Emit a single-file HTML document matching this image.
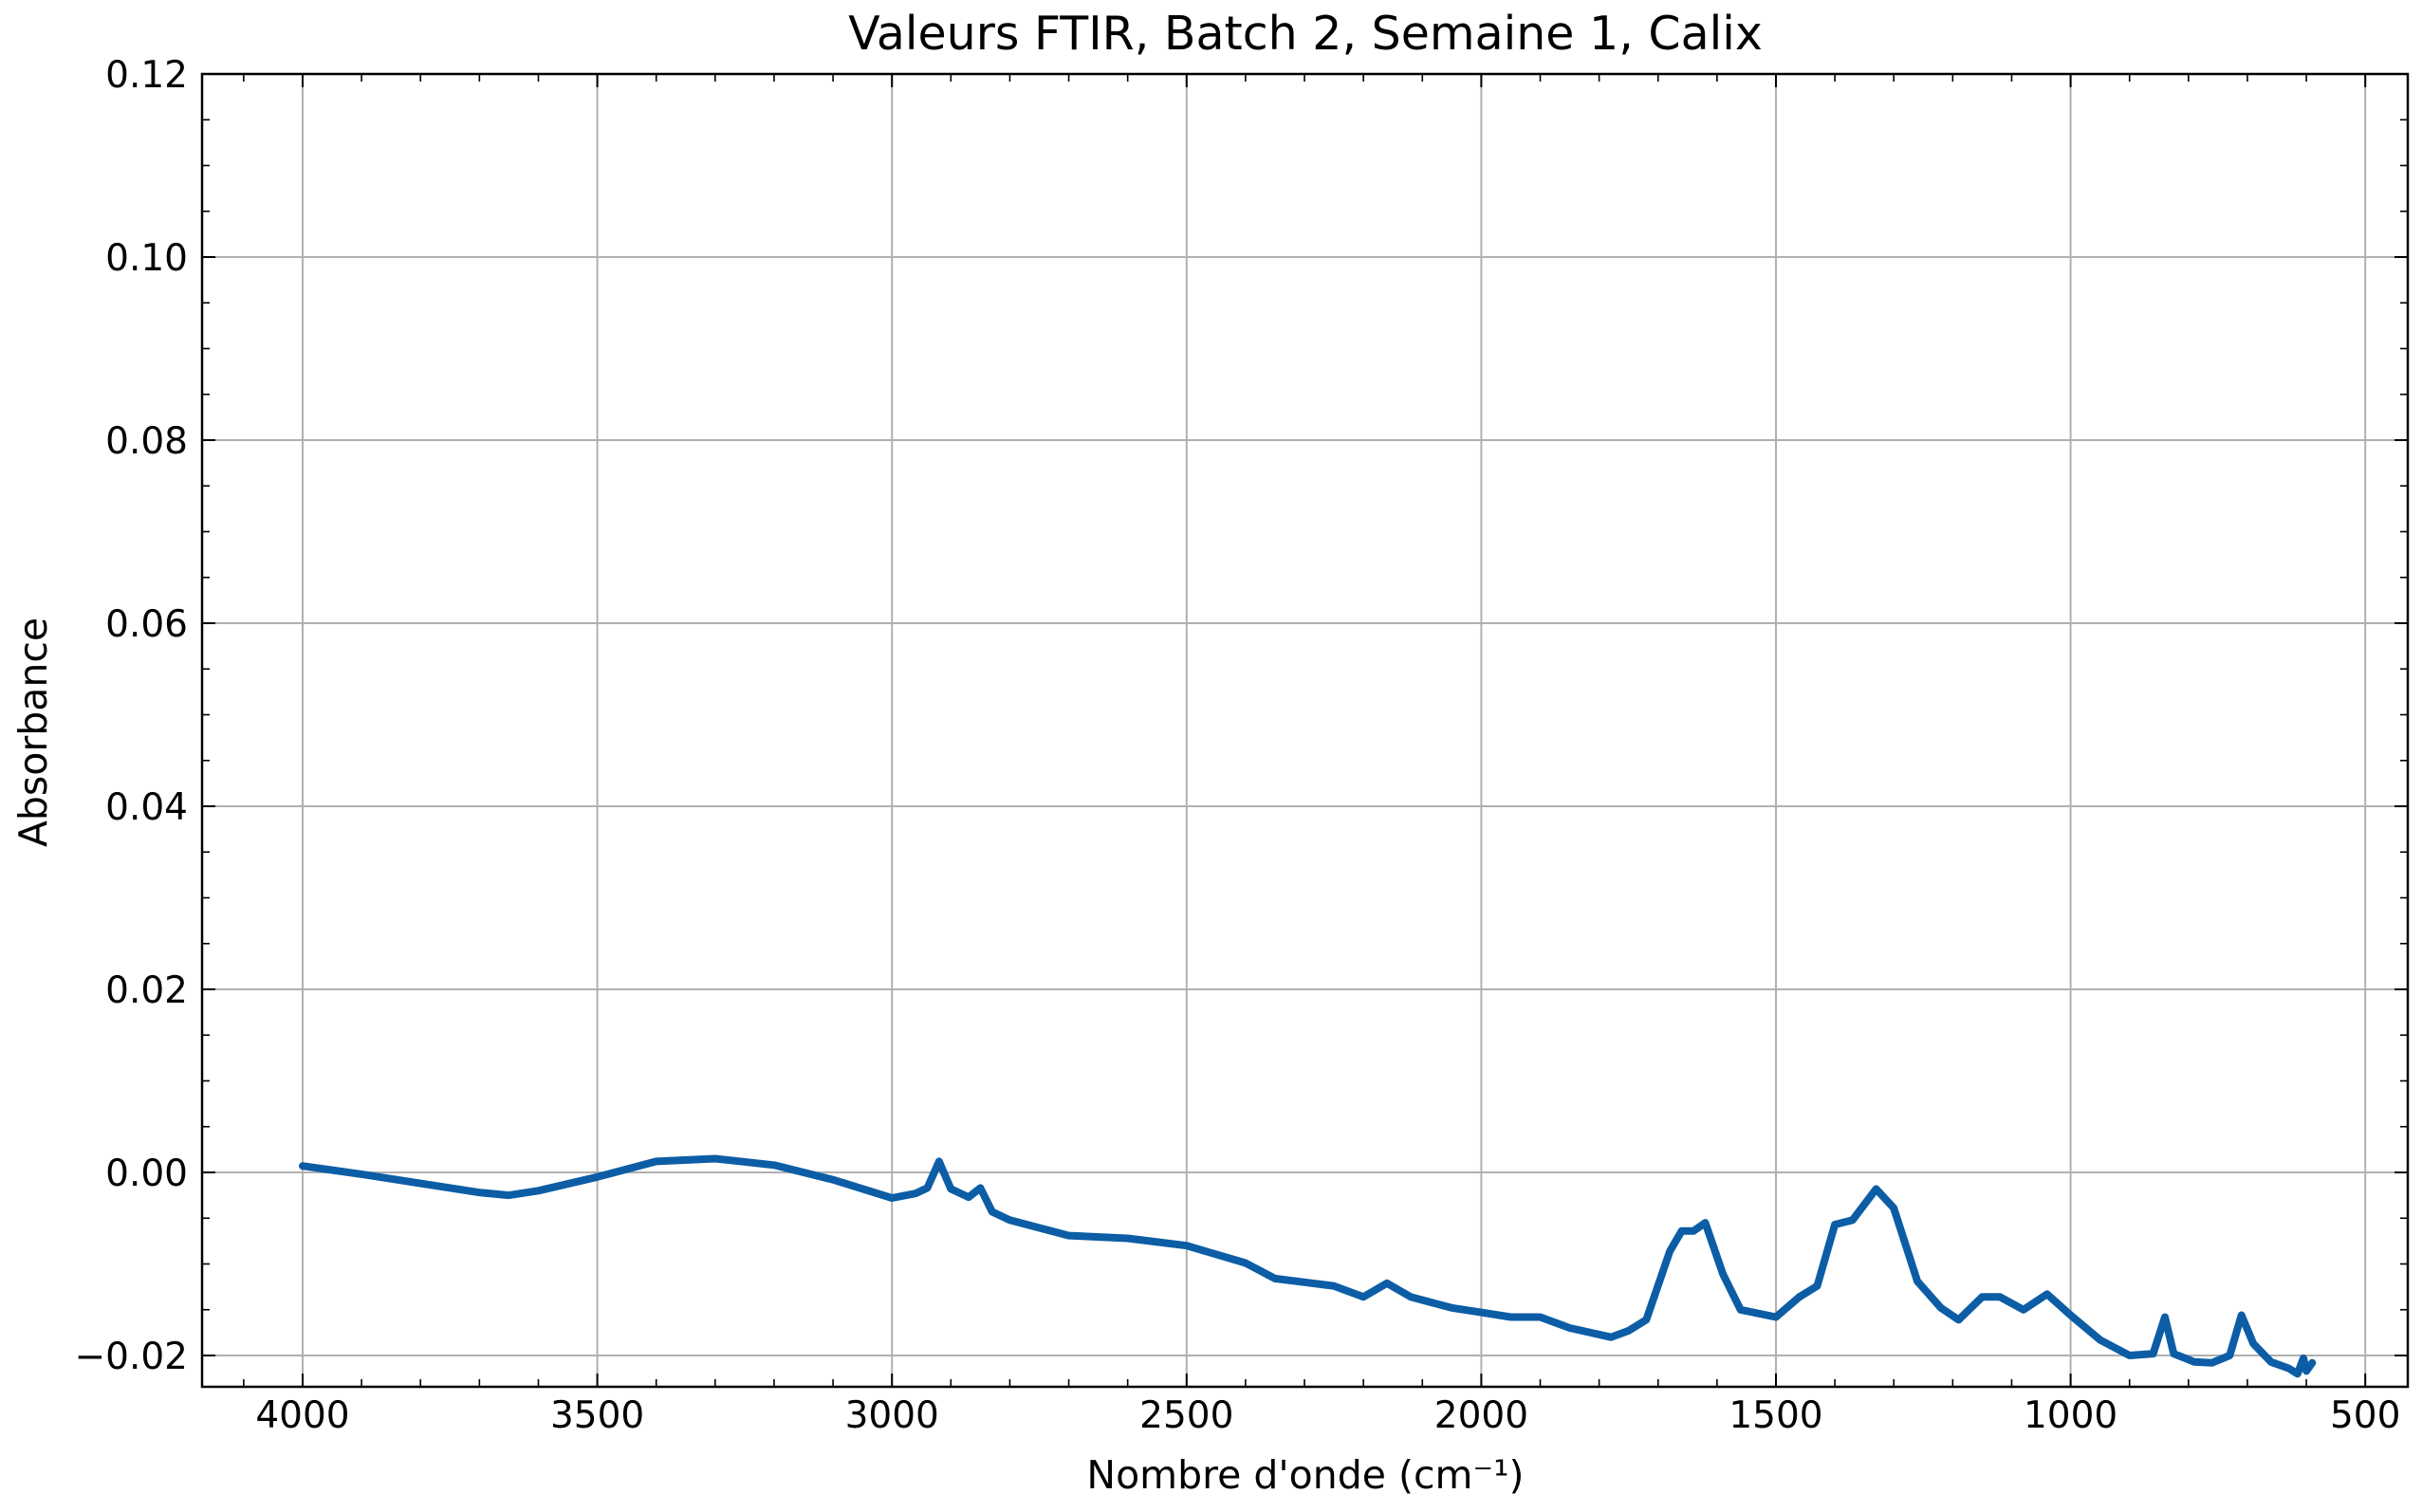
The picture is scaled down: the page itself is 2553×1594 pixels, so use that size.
<!DOCTYPE html>
<html><head><meta charset="utf-8"><style>
html,body{margin:0;padding:0;background:#fff}
svg{display:block}
text{font-family:"DejaVu Sans","Liberation Sans",sans-serif;fill:#000}
</style></head><body>
<svg id="chart" width="2553" height="1594" viewBox="0 0 2553 1594" xmlns="http://www.w3.org/2000/svg">
<g id="grid"></g>
<g id="series"></g>
<g id="axes"></g>
<text x="1376" y="52" font-size="49" text-anchor="middle">Valeurs FTIR, Batch 2, Semaine 1, Calix</text>
<text x="1376" y="1569" font-size="41" text-anchor="middle">Nombre d'onde (cm⁻¹)</text>
<text x="0" y="0" font-size="41" text-anchor="middle" transform="translate(49,772) rotate(-90)">Absorbance</text>
</svg>
<script>
const wavenumbers=[4000,3900,3800,3700,3650,3600,3500,3400,3300,3200,3100,3000,2960,2940,2920,2900,2870,2850,2830,2800,2700,2600,2500,2400,2350,2300,2250,2200,2160,2120,2050,2000,1950,1900,1850,1780,1750,1720,1680,1660,1640,1620,1590,1560,1500,1460,1430,1400,1370,1330,1300,1260,1220,1190,1150,1120,1080,1040,1000,950,900,860,840,825,790,760,730,710,690,660,630,615,605,600,590];
const absorbance=[0.0007,-0.0002,-0.0012,-0.0022,-0.0025,-0.002,-0.0005,0.0012,0.0015,0.0008,-0.0008,-0.0028,-0.0023,-0.0017,0.0012,-0.0018,-0.0027,-0.0017,-0.0043,-0.0052,-0.0069,-0.0072,-0.008,-0.0099,-0.0116,-0.012,-0.0124,-0.0136,-0.0121,-0.0136,-0.0148,-0.0153,-0.0158,-0.0158,-0.017,-0.018,-0.0173,-0.0161,-0.0086,-0.0064,-0.0064,-0.0055,-0.0111,-0.015,-0.0158,-0.0136,-0.0124,-0.0057,-0.0052,-0.0018,-0.0039,-0.0119,-0.0148,-0.0161,-0.0136,-0.0136,-0.015,-0.0133,-0.0156,-0.0183,-0.02,-0.0198,-0.0158,-0.0198,-0.0207,-0.0208,-0.02,-0.0156,-0.0187,-0.0207,-0.0214,-0.022,-0.0203,-0.0217,-0.0208];
const xTicks=[4000,3500,3000,2500,2000,1500,1000,500];
const yTicks=[-0.02,0,0.02,0.04,0.06,0.08,0.10,0.12];
const yTickLabels=["−0.02","0.00","0.02","0.04","0.06","0.08","0.10","0.12"];

const L=213,R=2538,T=78,B=1462;
const xScale=v=>319+(4000-v)*0.6212;
const yScale=v=>1236-v*9650;
const NS="http://www.w3.org/2000/svg";
function mk(tag,parent,attrs){const e=document.createElementNS(NS,tag);for(const k in attrs)e.setAttribute(k,attrs[k]);parent.appendChild(e);return e;}
const grid=document.getElementById('grid'),axes=document.getElementById('axes'),series=document.getElementById('series');
xTicks.forEach(v=>{const x=xScale(v);
 const g=mk('line',grid,{x1:x,x2:x,y1:T,y2:B,stroke:'#b0b0b0','stroke-width':2});
 
 
 [[B,B-14],[T,T+14]].forEach(p=>{const t=mk('line',axes,{x1:x,x2:x,y1:p[0],y2:p[1],stroke:'#000','stroke-width':2});
  
  });
 const lb=mk('text',axes,{x:x,y:1505,'font-size':39,'text-anchor':'middle'});lb.textContent=String(v);
 
 
});
for(let v=4100;v>=500;v-=100){if(v%500===0)continue;const x=xScale(v);if(x<L||x>R)continue;
 [[B,B-8],[T,T+8]].forEach(p=>{const t=mk('line',axes,{x1:x,x2:x,y1:p[0],y2:p[1],stroke:'#000','stroke-width':1.6});
  
  });}
yTicks.forEach((v,i)=>{const y=yScale(v);
 const g=mk('line',grid,{x1:L,x2:R,y1:y,y2:y,stroke:'#b0b0b0','stroke-width':2});
 
 
 [[L,L+14],[R,R-14]].forEach(p=>{const t=mk('line',axes,{x1:p[0],x2:p[1],y1:y,y2:y,stroke:'#000','stroke-width':2});
  
  });
 const lb=mk('text',axes,{x:198,y:y+14,'font-size':39,'text-anchor':'end'});lb.textContent=yTickLabels[i];
 
 
});
for(let k=-5;k<=24;k++){if(k%4===0)continue;const v=k*0.005;const y=yScale(v);if(y<T||y>B)continue;
 [[L,L+8],[R,R-8]].forEach(p=>{const t=mk('line',axes,{x1:p[0],x2:p[1],y1:y,y2:y,stroke:'#000','stroke-width':1.6});
  
  });}
const fr=mk('rect',axes,{x:L,y:T,width:R-L,height:B-T,fill:'none',stroke:'#000','stroke-width':2.5});


const d=wavenumbers.map((w,i)=>(i?'L':'M')+xScale(w).toFixed(1)+','+yScale(absorbance[i]).toFixed(1)).join(' ');
const p=mk('path',series,{d:d,fill:'none',stroke:'#0C5DA5','stroke-width':8,'stroke-linejoin':'round','stroke-linecap':'round'});


</script>
</body></html>
